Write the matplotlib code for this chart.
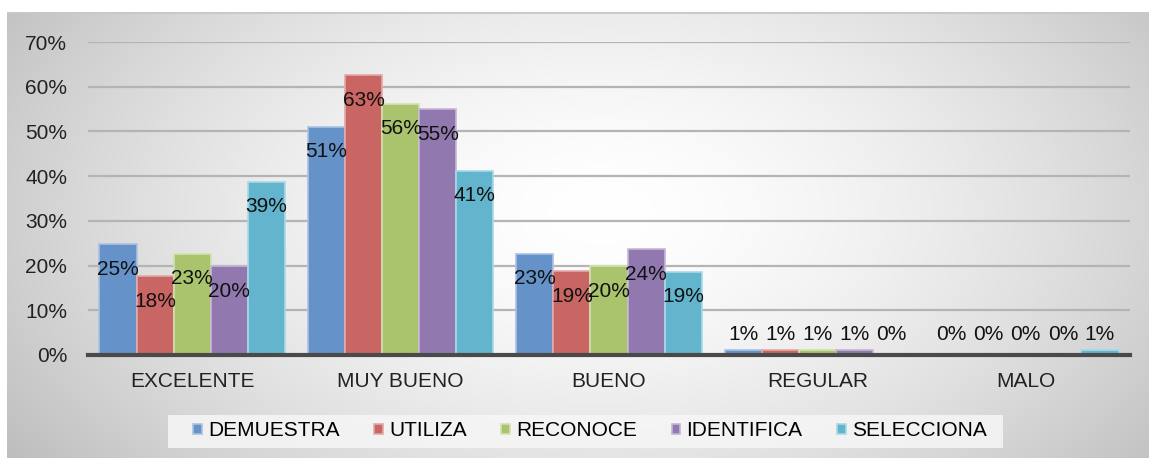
import numpy as np
import matplotlib
matplotlib.use("Agg")
import matplotlib.pyplot as plt
from matplotlib.patches import Rectangle

categories = ["EXCELENTE", "MUY BUENO", "BUENO", "REGULAR", "MALO"]
series_names = ["DEMUESTRA", "UTILIZA", "RECONOCE", "IDENTIFICA", "SELECCIONA"]
demuestra = [24.8, 51.1, 22.6, 1.1, 0.0]
utiliza = [17.6, 62.6, 18.7, 1.1, 0.0]
reconoce = [22.6, 56.2, 19.8, 1.1, 0.0]
identifica = [19.9, 55.0, 23.7, 1.1, 0.0]
selecciona = [38.7, 41.2, 18.6, 0.0, 1.1]
yticks = [0, 10, 20, 30, 40, 50, 60, 70]

series = [demuestra, utiliza, reconoce, identifica, selecciona]
colors = ["#6592c8", "#c96563", "#a9c46c", "#9179b0", "#62b5cd"]
edges = ["#a9c2e2", "#e3a9a8", "#d2e2b0", "#c4b6d6", "#a9d8e6"]

W, H, DPI = 1149, 458, 100
plt.rcParams["font.family"] = ["Liberation Sans", "DejaVu Sans"]
fig = plt.figure(figsize=(W / DPI, H / DPI), dpi=DPI)
fig.patch.set_facecolor("white")

# background radial gradient for chart area
x0, y0 = 7, 12
bg = fig.add_axes([x0 / W, 0, 1 - x0 / W, 1 - y0 / H])
bg.set_axis_off()
nx, ny = 600, 240
xx, yy = np.meshgrid(np.linspace(0, 1, nx), np.linspace(0, 1, ny))
d = np.sqrt(((xx - 0.52) / 0.62) ** 2 + ((yy - 0.55) / 0.95) ** 2)
val = 1.0 - 0.25 * np.clip(d, 0, 1.3) ** 1.6
val = np.clip(val, 0.74, 1.0)
img = np.dstack([val, val, val])
bg.imshow(img, extent=[0, 1, 0, 1], aspect="auto", origin="lower")
bg.set_xlim(0, 1)
bg.set_ylim(0, 1)
bg.axhline(1, color="#c8c8c8", lw=2)

# legend box
fig.add_artist(Rectangle((168 / W, 1 - 448 / H), (1003 - 168) / W, 33 / H,
                         transform=fig.transFigure, facecolor="#f6f6f6",
                         edgecolor="none", alpha=0.85, zorder=1))

# main axes
left, right, top, bottom = 88, 1130, 42, 355
ax = fig.add_axes([left / W, 1 - bottom / H, (right - left) / W, (bottom - top) / H])
ax.patch.set_alpha(0)
n = len(series)
width = 0.178
x = np.arange(len(categories))
for i, (vals, c, ec) in enumerate(zip(series, colors, edges)):
    pos = x + (i - (n - 1) / 2) * width
    ax.bar(pos, vals, width=width, color=c, edgecolor=ec, linewidth=1.2,
           label=series_names[i], zorder=3)
    for px, v in zip(pos, vals):
        txt = f"{round(v):.0f}%"
        if v < 5:
            ax.annotate(txt, (px, 0), xytext=(0, 15), textcoords="offset points",
                        ha="center", va="center", fontsize=15, color="#111111", zorder=5)
        else:
            ax.annotate(txt, (px, v), xytext=(0, -18), textcoords="offset points",
                        ha="center", va="center", fontsize=15, color="#111111", zorder=5)

ax.set_xlim(-0.5, len(categories) - 0.5)
ax.set_ylim(0, 70)
ax.set_yticks(yticks)
ax.set_yticklabels([f"{t}%" for t in yticks], fontsize=15, color="#222222")
ax.set_xticks(x)
ax.set_xticklabels(categories, fontsize=15, color="#222222")
ax.tick_params(axis="both", length=0)
ax.tick_params(axis="y", pad=15)
ax.tick_params(axis="x", pad=12)
ax.yaxis.grid(True, color="#b4b4b4", linewidth=1.6, zorder=0)
for s in ["left", "right", "top"]:
    ax.spines[s].set_visible(False)
ax.spines["bottom"].set_color("#4a4a4a")
ax.spines["bottom"].set_linewidth(3)
ax.spines["bottom"].set_zorder(4)

leg = fig.legend(loc="center", bbox_to_anchor=(590 / W, 1 - 431 / H), ncol=5,
                 fontsize=15, frameon=False, handlelength=0.42,
                 handleheight=0.42, handletextpad=0.3, columnspacing=1.65,
                 borderpad=0.2)

fig.savefig("out.png", dpi=DPI)
